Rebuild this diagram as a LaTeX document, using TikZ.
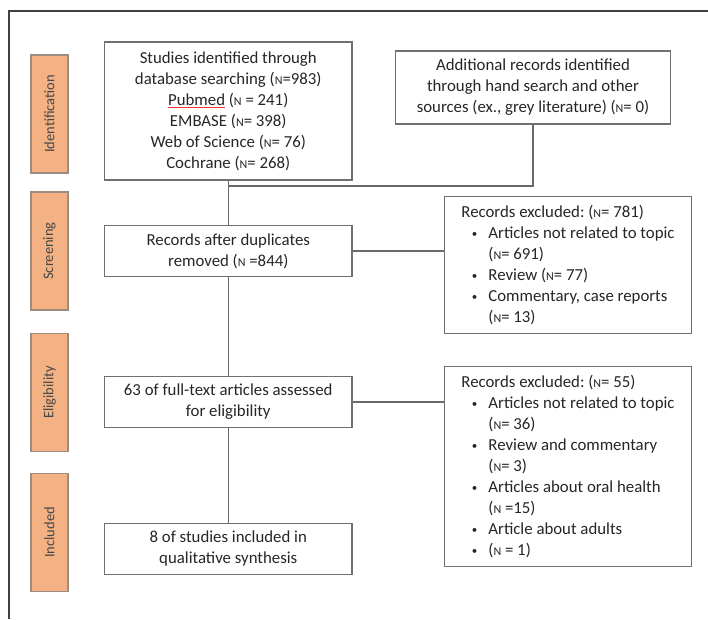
\documentclass[tikz,border=0pt]{standalone}
\usepackage{fontspec}
\setmainfont{Carlito}
\frenchspacing
\definecolor{tabfill}{HTML}{F4B183}
\definecolor{tabedge}{HTML}{9C8C80}
\definecolor{boxgray}{HTML}{707070}
\definecolor{linegray}{HTML}{6A6A6A}
\definecolor{txt}{HTML}{262626}
\definecolor{frame}{HTML}{404040}
\newcommand\NN{{\fontsize{12}{12}\selectfont N}}
\newcommand\spellmark[1]{\setbox0\hbox{#1}\rlap{\textcolor{red!80}{\rule[-2.8pt]{\wd0}{0.7pt}}}#1}
\newcommand\bul{\hspace*{10.5pt}\makebox[16.5pt][l]{\raisebox{1pt}{\fontsize{11}{11}\selectfont\textbullet}}}
\newcommand\ind{\hspace*{27pt}}
\tikzset{
  box/.style={draw=boxgray, line width=1.2pt, fill=white, text=txt,
    font=\fontsize{16.8}{21}\selectfont, align=center, inner sep=0pt},
  exbox/.style={box, align=left},
  tab/.style={draw=tabedge, fill=tabfill, line width=1.1pt, rotate=90,
    minimum width=118pt, minimum height=37pt, inner sep=0pt,
    text=txt!85, font=\fontsize{14.5}{16}\selectfont},
  link/.style={draw=linegray, line width=1.2pt},
}
\begin{document}
\begin{tikzpicture}[x=1pt,y=-1pt]
\useasboundingbox (0,0) rectangle (708,619);
\draw[frame, line width=1.5pt] (9,619) -- (9,11) -- (708,11);

% phase tabs
\node[tab] (t1) at (49.5,114) {Identification};
\node[tab] (t2) at (49.5,251) {Screening};
\node[tab] (t3) at (49.5,392.5) {Eligibility};
\node[tab] (t4) at (49.5,532.5) {Included};

% main boxes
\node[box, minimum width=247.5pt, minimum height=138pt] (b1) at (228.25,111)
  {Studies identified through\\ database searching (\NN=983)\\ \spellmark{Pubmed} (\NN\ = 241)\\ EMBASE (\NN= 398)\\ Web of Science (\NN= 76)\\ Cochrane (\NN= 268)};
\node[box, minimum width=274.5pt, minimum height=73pt] (add) at (533,87.5)
  {Additional records identified\\ through hand search and other\\ sources (ex., grey literature) (\NN= 0)};
\node[box, minimum width=247.5pt, minimum height=51.5pt] (b2) at (228.25,251)
  {Records after duplicates\\ removed (\NN\ =844)};
\node[box, minimum width=247.5pt, minimum height=51.7pt] (el) at (228.25,402)
  {63 of full-text articles assessed\\ for eligibility};
\node[box, minimum width=247.5pt, minimum height=51.7pt] (inc) at (228.25,549)
  {8 of studies included in\\ qualitative synthesis};

% exclusion boxes
\node[exbox, minimum width=247pt, minimum height=136.6pt] (ex1) at (568,265)
  {Records excluded: (\NN= 781)\\
   \bul Articles not related to topic\\
   \ind(\NN= 691)\\
   \bul Review (\NN= 77)\\
   \bul Commentary, case reports\\
   \ind(\NN= 13)};
\node[exbox, minimum width=247pt, minimum height=200pt] (ex2) at (568,466.7)
  {Records excluded: (\NN= 55)\\
   \bul Articles not related to topic\\
   \ind(\NN= 36)\\
   \bul Review and commentary\\
   \ind(\NN= 3)\\
   \bul Articles about oral health\\
   \ind(\NN\ =15)\\
   \bul Article about adults\\
   \bul (\NN\ = 1)};

% connectors
\coordinate (j) at (228.25,186);
\draw[link] (b1.south) -- (b2.north);
\draw[link] (add.south) |- (j);
\draw[link] (b2.south) -- (el.north);
\draw[link] (el.south) -- (inc.north);
\draw[link] (b2.east) -- (b2.east -| ex1.west);
\draw[link] (el.east) -- (el.east -| ex2.west);
\end{tikzpicture}
\end{document}
